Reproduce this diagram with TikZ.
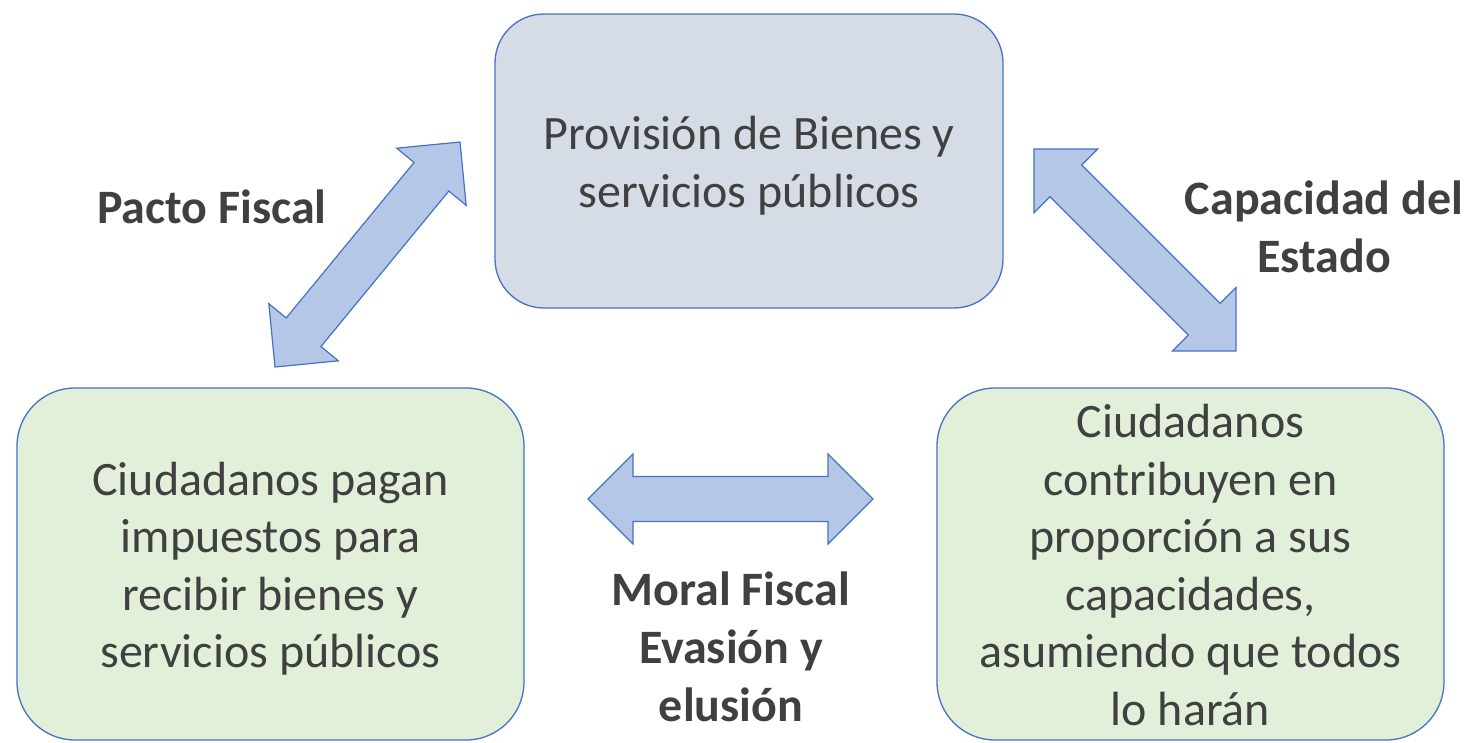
\documentclass[tikz,border=0pt]{standalone}
\usepackage{fontspec}
\setmainfont{Carlito}
\definecolor{edgeblue}{HTML}{4472C4}
\definecolor{topfill}{HTML}{D6DCE5}
\definecolor{greenfill}{HTML}{E2F0D9}
\definecolor{arrowfill}{HTML}{B4C7E7}
\definecolor{txt}{HTML}{404040}
\newcommand\ls{\rule[-11.5pt]{0pt}{57.5pt}}
\newcommand\blockarrow[3]{%
  \begin{scope}[shift={(#1)},rotate=#2]
    \draw[barrow] (0,0) -- (45,45) -- (45,22.5) -- ({#3-45},22.5) -- ({#3-45},45)
      -- (#3,0) -- ({#3-45},-45) -- ({#3-45},-22.5) -- (45,-22.5) -- (45,-45) -- cycle;
  \end{scope}}
\begin{document}
\begin{tikzpicture}[x=1pt,y=1pt,
  box/.style={draw=edgeblue,line width=1.3pt,align=center,text=txt,inner sep=0pt,
    font=\fontsize{48}{57.5}\selectfont},
  topbox/.style={box,fill=topfill,minimum width=508pt,minimum height=294pt,rounded corners=49pt},
  lowbox/.style={box,fill=greenfill,minimum width=507pt,minimum height=352pt,rounded corners=58pt},
  lbl/.style={align=center,text=txt,inner sep=0pt,font=\fontsize{48}{58}\selectfont\bfseries},
  barrow/.style={draw=edgeblue,fill=arrowfill,line width=1.2pt,line join=miter}]
\useasboundingbox (0,0) rectangle (1466,-742);
\node[topbox] (prov) at (749,-161) {\ls Provisión de Bienes y\\\ls servicios públicos};
\node[lowbox] (pagan) at (270.5,-564) {\ls Ciudadanos pagan\\\ls impuestos para\\\ls recibir bienes y\\\ls servicios públicos};
\node[lowbox] (contrib) at (1190.5,-564) {\ls Ciudadanos\\\ls contribuyen en\\\ls proporción a sus\\\ls capacidades,\\\ls asumiendo que todos\\\ls lo harán};
\node[lbl] (pacto) at (212,-207) {Pacto Fiscal};
\node[lbl] (capac) at (1324,-227) {Capacidad del\\Estado};
\node[lbl] (moral) at (731,-647) {Moral Fiscal\\Evasión y\\elusión};
\coordinate (la) at (275,-367);
\coordinate (lb) at (460,-142);
\coordinate (ra) at (1034,-149);
\coordinate (rb) at (1236,-351);
\coordinate (ha) at (588,-499);
\coordinate (hb) at (873,-499);
\blockarrow{la}{50.57}{291.3}
\blockarrow{ra}{-45}{285.7}
\blockarrow{ha}{0}{285}
\end{tikzpicture}
\end{document}
